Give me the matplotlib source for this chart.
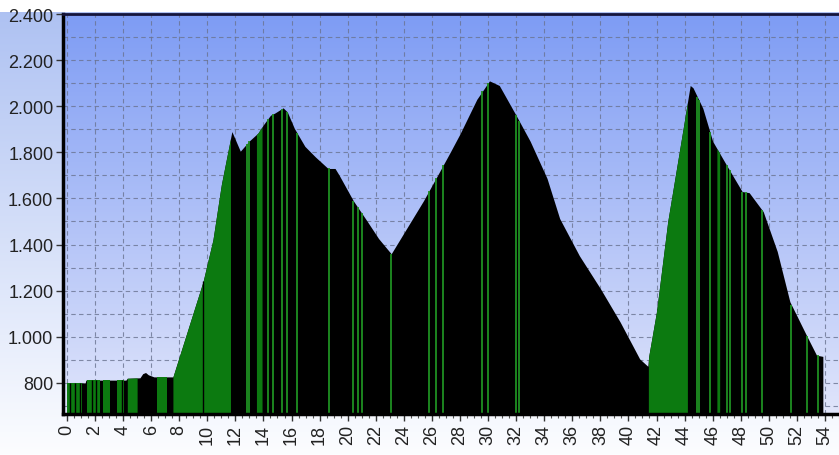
import numpy as np
import matplotlib
matplotlib.use("Agg")
from matplotlib import pyplot as plt
from matplotlib.ticker import MultipleLocator, FuncFormatter

# elevation profile (km, m)
dist = [0.0, 1.3, 1.35, 4.2, 4.3, 5.2, 5.4, 5.6, 5.8, 6.2, 7.55, 9.7, 10.4, 11.0,
        11.75, 12.35, 13.0, 13.6, 14.0, 14.5, 14.8, 15.4, 15.7, 16.2, 16.95, 17.7,
        18.6, 19.1, 19.4, 20.4, 21.4, 22.2, 23.1, 23.9, 25.4, 26.4, 27.3, 28.0,
        29.2, 30.1, 30.8, 32.0, 33.0, 34.2, 35.1, 36.5, 38.0, 39.4, 40.8, 41.38,
        41.45, 42.0, 42.8, 43.9, 44.4, 44.6, 45.3, 46.0, 47.0, 48.1, 48.6, 49.6,
        50.6, 51.5, 52.7, 53.4, 53.85]
elev = [800, 800, 812, 812, 820, 822, 840, 845, 835, 826, 826, 1240, 1420, 1660,
        1890, 1805, 1850, 1883, 1920, 1961, 1970, 1993, 1975, 1904, 1826, 1780,
        1730, 1730, 1700, 1590, 1500, 1426, 1360, 1440, 1590, 1700, 1800, 1880,
        2030, 2110, 2090, 1960, 1848, 1687, 1513, 1352, 1209, 1065, 904, 872,
        917, 1109, 1500, 1904, 2090, 2080, 1991, 1848, 1743, 1630, 1625, 1543,
        1370, 1152, 1004, 920, 915]

# green sections (start km, end km)
green_start = [0.0, 1.4, 2.55, 3.6, 4.3, 6.4, 7.55, 13.5, 41.42, 46.3]
green_end = [1.1, 2.35, 3.05, 4.1, 5.0, 7.1, 11.65, 13.9, 44.2, 46.5]
# thin separators
black_marks = [0.2, 0.6, 0.9, 1.8, 2.1, 3.9, 9.7]
green_marks = [12.8, 13.0, 14.3, 14.7, 15.3, 15.7, 16.4, 18.7, 20.4, 20.7, 21.0,
               23.1, 25.8, 26.3, 26.8, 29.6, 30.0, 32.0, 32.2, 44.9, 45.0, 45.8,
               47.0, 47.2, 48.1, 48.4, 49.5, 51.6, 52.7, 53.5]

x_ticks = list(range(0, 56, 2))
ymin, ymax = 665, 2400
xmin, xmax = -0.28, 55.0

dist = np.array(dist)
elev = np.array(elev)

fig = plt.figure(figsize=(8.39, 4.56), dpi=100)

# figure background gradient
bg = fig.add_axes([0, 0, 1, 1], zorder=-5)
rows = 456
top_c = np.array([172, 192, 242]) / 255
bot_c = np.array([252, 253, 255]) / 255
t = np.linspace(0, 1, rows)[:, None]
grad = top_c * (1 - t) + bot_c * t
grad[:13] = 1.0
bg.imshow(grad[:, None, :], aspect="auto", extent=[0, 1, 0, 1])
bg.set_axis_off()

ax = fig.add_axes([63 / 839, 1 - 415 / 456, 1 - 63 / 839, 400 / 456])
ax.patch.set_alpha(0)
a_top = np.array([126, 156, 244]) / 255
a_bot = np.array([224, 229, 251]) / 255
t2 = np.linspace(0, 1, 200)[:, None]
agrad = a_top * (1 - t2) + a_bot * t2
ax.imshow(agrad[:, None, :], aspect="auto", extent=[0, 1, 0, 1],
          transform=ax.transAxes, zorder=0)

ax.grid(True, which="both", linestyle=(0, (4, 3)), color="#6a7390", linewidth=0.8, alpha=0.8)
ax.set_axisbelow(True)

# profile: black body
ax.fill_between(dist, ymin - 20, elev, color="black", linewidth=0, zorder=2)

# green sections
for s, e in zip(green_start, green_end):
    xs = np.linspace(s, e, 60)
    ax.fill_between(xs, ymin - 20, np.interp(xs, dist, elev), color="#0c7a10",
                    linewidth=0, zorder=3)
for m in black_marks:
    ax.vlines(m, ymin - 20, np.interp(m, dist, elev), color="black", linewidth=1.0, zorder=4)
for m in green_marks:
    ax.vlines(m, ymin - 20, np.interp(m, dist, elev), color="#1f8f22", linewidth=1.3, zorder=4)

ax.set_xlim(xmin, xmax)
ax.set_ylim(ymin, ymax)
ax.set_xticks(x_ticks)
ax.set_xticklabels([str(v) for v in x_ticks], rotation=90)
ax.xaxis.set_minor_locator(MultipleLocator(0.5))
ax.yaxis.set_major_locator(MultipleLocator(200))
ax.yaxis.set_minor_locator(MultipleLocator(100))
ax.set_yticks([800, 1000, 1200, 1400, 1600, 1800, 2000, 2200, 2400])
ax.yaxis.set_major_formatter(FuncFormatter(lambda v, p: f"{int(v):,}".replace(",", ".")))
ax.xaxis.grid(False, which="minor")

for lab in ax.get_xticklabels() + ax.get_yticklabels():
    lab.set_fontfamily("Liberation Sans")
    lab.set_fontsize(13)
    lab.set_color("#222222")

ax.tick_params(axis="both", which="major", length=5, width=1, color="#333333", pad=2)
ax.tick_params(axis="both", which="minor", length=3, width=0.8, color="#555555")
ax.tick_params(axis="y", which="minor", length=0)

ax.spines["right"].set_visible(False)
ax.spines["left"].set_linewidth(2.5)
ax.spines["left"].set_color("black")
ax.spines["bottom"].set_linewidth(2.5)
ax.spines["bottom"].set_color("black")
ax.spines["top"].set_linewidth(2)
ax.spines["top"].set_color("#14143c")
for sp in ax.spines.values():
    sp.set_zorder(6)

fig.savefig("out.png", dpi=100)
